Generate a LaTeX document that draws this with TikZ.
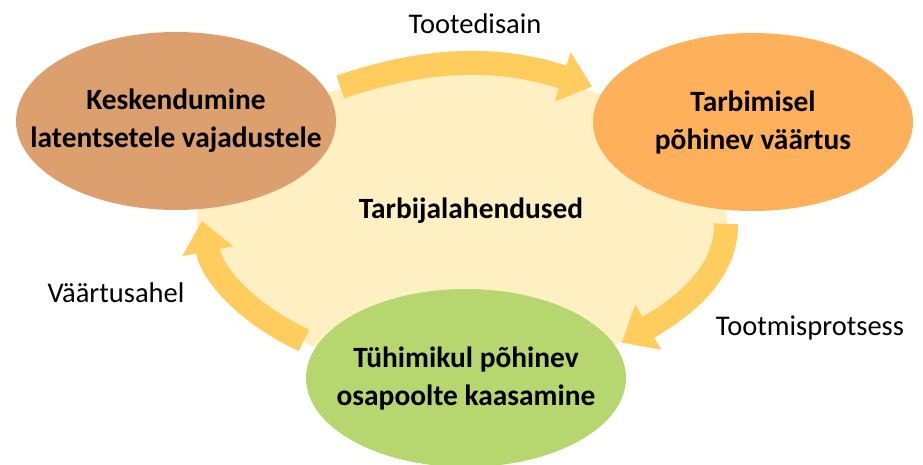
\documentclass[tikz,border=0pt]{standalone}
\usepackage{fontspec}
\setmainfont{Carlito}
\usetikzlibrary{arrows.meta, shapes.geometric}

\definecolor{keskbrown}{HTML}{DBA06E}
\definecolor{tarborange}{HTML}{FFB05A}
\definecolor{tuhigreen}{HTML}{B6D670}
\definecolor{flowyellow}{HTML}{FFCC5E}
\definecolor{ringyellow}{HTML}{FFF0C4}

\begin{document}
\begin{tikzpicture}[
  x=1pt, y=1pt,
  flow/.style={-{Triangle[length=31pt, width=50pt]}, line width=24pt, draw=flowyellow},
  blob/.style={ellipse, minimum width=320pt, minimum height=178pt, inner xsep=-50pt, inner ysep=0pt, outer sep=0pt, align=center, font=\fontsize{29.4}{38}\selectfont\bfseries},
  caption/.style={anchor=base, font=\fontsize{28.5}{34}\selectfont}
]
  \useasboundingbox (0,0) rectangle (923,-464);

  % background
  \node (ring) [ellipse, fill=ringyellow, minimum width=530pt, minimum height=300pt, outer sep=0pt] at (462,-222) {};
  \node (mitte) [anchor=base, font=\fontsize{29.4}{38}\selectfont\bfseries] at (471,-218) {Tarbijalahendused};

  % three stages
  \node (kesk) [blob, fill=keskbrown] at (176,-121) {Keskendumine\\latentsetele vajadustele};
  \node (tarb) [blob, fill=tarborange] at (753,-122) {Tarbimisel\\põhinev väärtus};
  \node (tuhi) [blob, fill=tuhigreen] at (466,-378) {Tühimikul põhinev\\osapoolte kaasamine};

  % cycle arrows
  \draw[flow, shorten <=14pt, shorten >=12pt] (kesk.11) to[out=19, in=162] (tarb.168);
  \draw[flow, shorten <=14pt, shorten >=7pt] (tarb.253) to[out=-90, in=30] (tuhi.12);
  \draw[flow, shorten <=14pt, shorten >=12pt] (tuhi.168) to[out=155, in=-79] (kesk.285);

  % labels
  \node (disain) [caption] at (475,-33) {Tootedisain};
  \node (tootmine) [caption] at (810,-335) {Tootmisprotsess};
  \node (ahel) [caption] at (116,-302) {Väärtusahel};

\end{tikzpicture}
\end{document}
